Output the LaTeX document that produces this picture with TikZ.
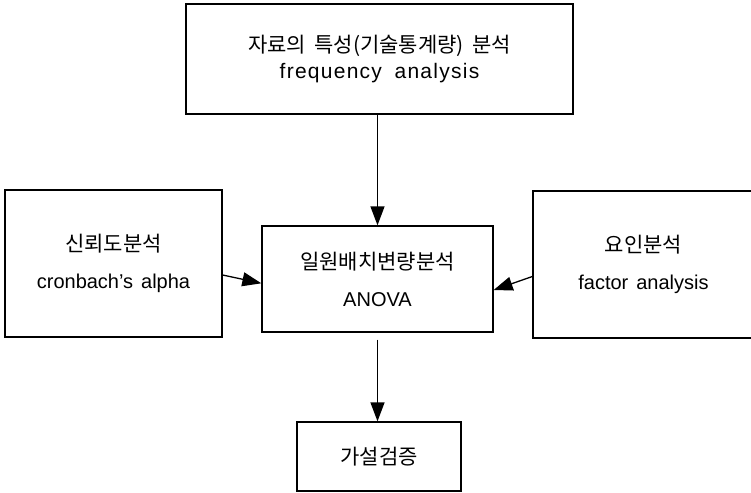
\documentclass[tikz,border=0pt]{standalone}
\usepackage{fontspec}
\setmainfont{Liberation Sans}
\newfontfamily\krfont{Noto Sans CJK KR}
\usetikzlibrary{arrows.meta}
\newcommand{\kr}[1]{{\krfont\fontsize{21}{21}\selectfont #1}}
\begin{document}
\begin{tikzpicture}[x=1pt,y=-1pt,
  box/.style={draw=black,line width=1.3pt,rectangle,inner sep=0pt,align=center,
    font=\fontsize{20}{37}\selectfont},
  arr/.style={line width=1.3pt,-{Triangle[length=19pt,width=14pt]}}]
\useasboundingbox (0,0) rectangle (751,492);
\node[box,minimum width=387pt,minimum height=110pt,font=\fontsize{21}{26}\selectfont] (top) at (379.5,59)
  {\kr{자료의\hspace{0.4em}특성(기술통계량)\hspace{0.4em}분석}\\{\addfontfeature{LetterSpace=6}frequency\hspace{0.6em}analysis}};
\node[box,minimum width=217pt,minimum height=147pt] (left) at (113.5,263.5)
  {\kr{신뢰도분석}\\cronbach's\hspace{0.4em}alpha};
\node[box,minimum width=231pt,minimum height=106pt] (mid) at (377.5,279)
  {\kr{일원배치변량분석}\\ANOVA};
\node[box,minimum width=221pt,minimum height=147pt] (right) at (643.5,264.5)
  {\kr{요인분석}\\factor\hspace{0.4em}analysis};
\node[box,minimum width=164pt,minimum height=69pt] (bot) at (379,456.5)
  {\kr{가설검증}};
\draw[arr] (top.south -| mid.center) -- (mid.north);
\draw[arr] ([yshift=-11.5pt]left.east) -- ([yshift=-4.3pt]mid.west);
\draw[arr] ([yshift=-12pt]right.west) -- ([yshift=-11pt]mid.east);
\draw[arr] ([yshift=-7pt]mid.south) -- (bot.north -| mid.south);
\end{tikzpicture}
\end{document}
